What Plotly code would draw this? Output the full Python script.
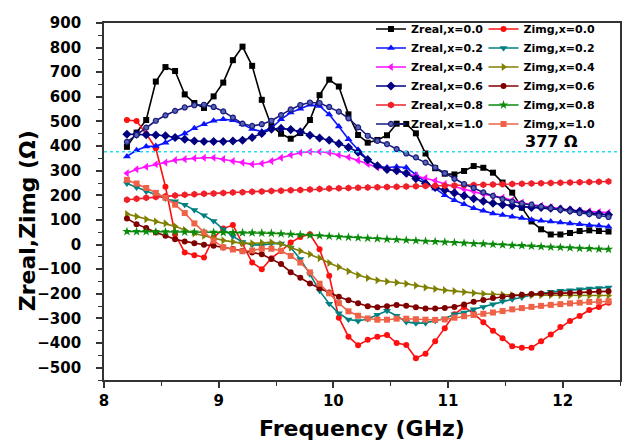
import plotly.graph_objects as go

# Frequency sweep (GHz), X-band
freq = [8.200, 8.284, 8.368, 8.452, 8.536, 8.620, 8.704, 8.788, 8.872, 8.956,
        9.040, 9.124, 9.208, 9.292, 9.376, 9.460, 9.544, 9.628, 9.712, 9.796,
        9.880, 9.964, 10.048, 10.132, 10.216, 10.300, 10.384, 10.468, 10.552, 10.636,
        10.720, 10.804, 10.888, 10.972, 11.056, 11.140, 11.224, 11.308, 11.392, 11.476,
        11.560, 11.644, 11.728, 11.812, 11.896, 11.980, 12.064, 12.148, 12.232, 12.316,
        12.400]

# Real part of the input impedance (ohm)
zreal_00 = [397, 455, 506, 662, 721, 705, 610, 575, 555, 602,
            658, 749, 804, 726, 588, 482, 450, 430, 453, 506,
            607, 670, 642, 529, 445, 414, 425, 444, 491, 490,
            452, 370, 310, 288, 285, 299, 319, 312, 292, 252,
            211, 150, 94, 62, 41, 41, 47, 55, 58, 55,
            53]
zreal_02 = [358, 383, 398, 400, 414, 435, 451, 473, 489, 503,
            509, 505, 489, 469, 459, 473, 509, 536, 552, 568,
            563, 528, 480, 428, 385, 345, 318, 313, 316, 313,
            284, 254, 228, 200, 180, 164, 148, 137, 126, 120,
            113, 108, 101, 97, 94, 90, 86, 83, 79, 76,
            72]
zreal_04 = [290, 306, 316, 326, 333, 343, 347, 351, 353, 353,
            347, 339, 333, 326, 329, 339, 353, 364, 373, 377,
            377, 373, 364, 355, 342, 327, 313, 307, 300, 289,
            280, 270, 259, 246, 235, 225, 216, 205, 198, 191,
            180, 171, 162, 158, 151, 144, 140, 137, 135, 132,
            130]
zreal_06 = [448, 448, 446, 445, 442, 435, 428, 421, 419, 419,
            419, 421, 424, 435, 451, 469, 472, 467, 458, 444,
            433, 424, 410, 395, 375, 345, 320, 305, 300, 290,
            268, 248, 232, 222, 210, 198, 186, 176, 168, 162,
            158, 154, 151, 151, 148, 144, 140, 135, 128, 124,
            121]
zreal_08 = [182, 186, 190, 193, 196, 199, 202, 204, 206, 208,
            210, 212, 213, 215, 216, 218, 219, 221, 222, 224,
            226, 228, 229, 230, 231, 232, 233, 234, 235, 236,
            237, 238, 239, 239, 240, 241, 242, 243, 244, 245,
            246, 247, 248, 249, 250, 251, 252, 253, 254, 255,
            256]
zreal_10 = [417, 445, 475, 503, 525, 543, 557, 566, 568, 559,
            541, 516, 491, 482, 489, 503, 526, 549, 567, 577,
            575, 559, 540, 513, 476, 442, 421, 408, 388, 370,
            354, 333, 313, 290, 267, 246, 230, 212, 198, 185,
            175, 167, 162, 154, 148, 141, 135, 128, 124, 117,
            112]

# Imaginary part of the input impedance (ohm)
zimg_00 = [506, 502, 450, 391, 235, 42, -32, -43, -52, 28,
           65, 80, 5, -73, -100, -55, -26, 8, 31, 42,
           -19, -127, -297, -374, -409, -387, -374, -367, -400, -408,
           -462, -443, -393, -340, -283, -253, -280, -315, -350, -380,
           -413, -419, -419, -393, -365, -335, -310, -290, -266, -253,
           -236]
zimg_02 = [248, 232, 216, 201, 187, 176, 162, 140, 119, 96,
           62, 34, 10, -1, -2, 4, 4, -12, -59, -120,
           -188, -240, -279, -304, -310, -302, -285, -269, -289, -314,
           -320, -318, -309, -300, -283, -276, -263, -253, -242, -230,
           -222, -215, -205, -199, -192, -188, -185, -181, -178, -176,
           -174]
zimg_04 = [124, 114, 103, 94, 86, 74, 59, 45, 36, 26,
           17, 11, 5, 5, 7, 9, 2, -12, -26, -39,
           -55, -75, -91, -108, -124, -136, -145, -150, -154, -159,
           -166, -174, -180, -185, -189, -193, -197, -200, -202, -204,
           -205, -205, -206, -206, -206, -206, -207, -207, -207, -207,
           -207]
zimg_06 = [106, 83, 67, 49, 36, 22, 13, 5, -1, -5,
           -12, -18, -25, -32, -39, -59, -79, -112, -135, -158,
           -177, -195, -212, -226, -238, -250, -255, -250, -245, -248,
           -255, -260, -260, -258, -253, -243, -232, -225, -217, -212,
           -208, -204, -201, -199, -199, -198, -197, -195, -193, -191,
           -190]
zimg_08 = [53, 53, 53, 52, 52, 52, 51, 51, 50, 50,
           49, 49, 48, 48, 47, 46, 44, 42, 40, 38,
           36, 34, 32, 30, 28, 26, 24, 22, 20, 18,
           16, 14, 12, 10, 8, 6, 4, 3, 1, -1,
           -3, -4, -6, -8, -10, -11, -13, -15, -16, -18,
           -19]
zimg_10 = [263, 248, 230, 210, 190, 162, 128, 86, 49, 16,
           -11, -20, -27, -24, -17, -17, -25, -46, -73, -113,
           -159, -198, -238, -271, -289, -300, -305, -305, -301, -301,
           -303, -305, -306, -304, -297, -291, -286, -281, -276, -270,
           -263, -258, -253, -249, -245, -242, -239, -236, -233, -231,
           -230]

free_space_impedance = 377

# (name, values, colour, marker symbol, marker size, legend)
series = [
    ("Zreal,x=0.0", zreal_00, "#000000", "square", 6, "legend"),
    ("Zimg,x=0.0", zimg_00, "#FF1010", "circle", 6, "legend2"),
    ("Zreal,x=0.2", zreal_02, "#0A14FF", "triangle-up", 7, "legend"),
    ("Zimg,x=0.2", zimg_02, "#008080", "triangle-down", 7, "legend2"),
    ("Zreal,x=0.4", zreal_04, "#FF10FF", "triangle-left", 7, "legend"),
    ("Zimg,x=0.4", zimg_04, "#808000", "triangle-right", 7, "legend2"),
    ("Zreal,x=0.6", zreal_06, "#000080", "diamond", 7, "legend"),
    ("Zimg,x=0.6", zimg_06, "#800000", "circle", 6, "legend2"),
    ("Zreal,x=0.8", zreal_08, "#F0202A", "hexagon", 7, "legend"),
    ("Zimg,x=0.8", zimg_08, "#0A8A0A", "star", 7, "legend2"),
    ("Zreal,x=1.0", zreal_10, "#1A1A80", "circle", 5, "legend"),
    ("Zimg,x=1.0", zimg_10, "#EE6247", "square", 6, "legend2"),
]

fig = go.Figure()
for name, vals, color, symbol, size, leg in series:
    marker = dict(symbol=symbol, size=size, color=color)
    if name == "Zreal,x=1.0":
        marker = dict(symbol=symbol, size=size, color="#5565B0",
                      line=dict(color=color, width=1.2))
    fig.add_trace(go.Scatter(
        x=freq, y=vals, name=name, mode="lines+markers",
        line=dict(color=color, width=1.6), marker=marker, legend=leg,
    ))

# free-space impedance reference line
fig.add_shape(type="line", xref="x", yref="y", x0=8, x1=12.5,
              y0=free_space_impedance, y1=free_space_impedance,
              line=dict(color="#22DDEE", width=1.6, dash="dot"))
fig.add_annotation(x=11.9, y=free_space_impedance + 40, xref="x", yref="y",
                   text="377 Ω", showarrow=False,
                   font=dict(family="DejaVu Sans", size=16, color="#000000", weight="bold"))

# y-axis title, set slightly below the axis centre
fig.add_annotation(x=27, y=221, xref="paper", yref="paper", text="Zreal,Zimg (Ω)",
                   showarrow=False, textangle=-90, xanchor="center", yanchor="middle",
                   font=dict(family="DejaVu Sans", size=22, color="#000000", weight="bold"))

axis_common = dict(
    showgrid=False, zeroline=False, showline=True, linecolor="#333333",
    linewidth=1.8, mirror=True, ticks="outside", ticklen=6, tickwidth=1.5,
    tickcolor="#333333",
    tickfont=dict(family="DejaVu Sans", size=15, color="#000000", weight="bold"),
)

fig.update_xaxes(
    range=[8, 12.5], tick0=8, dtick=1,
    minor=dict(dtick=0.5, ticks="outside", ticklen=4, tickcolor="#333333", tickwidth=1.3),
    title=dict(text="Frequency (GHz)", standoff=12,
               font=dict(family="DejaVu Sans", size=22, color="#000000", weight="bold")),
    **axis_common,
)
fig.update_yaxes(
    range=[-550, 900], tick0=0, dtick=100,
    minor=dict(dtick=50, ticks="outside", ticklen=4, tickcolor="#333333", tickwidth=1.3),
    ticklabelstandoff=12,
    **axis_common,
)

legend_style = dict(
    xanchor="left", yanchor="top", y=1.024, bgcolor="rgba(0,0,0,0)",
    borderwidth=0, itemwidth=30, tracegroupgap=0,
    font=dict(family="DejaVu Sans", size=11, color="#000000", weight="bold"),
)
fig.update_layout(
    width=628, height=444,
    margin=dict(l=104, r=6, t=23, b=64),
    paper_bgcolor="white", plot_bgcolor="white",
    showlegend=True,
    legend=dict(x=0.5174, **legend_style),
    legend2=dict(x=0.7355, **legend_style),
)

# paper-pixel placement of the y title
fig.layout.annotations[1].update(x=(27 - 104) / 518, y=(380 - 221) / 357)

fig.write_html("out.html")
